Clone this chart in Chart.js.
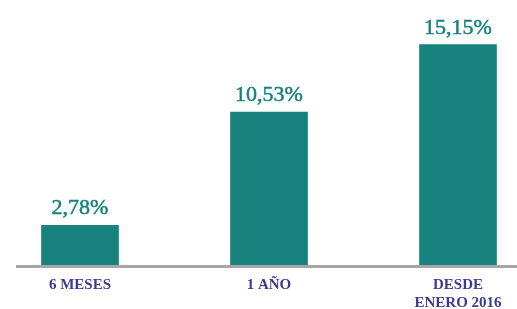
<!DOCTYPE html>
<html>
<head>
<meta charset="utf-8">
<script src="https://cdn.jsdelivr.net/npm/chart.js@4"></script>
<style>
    html, body { margin: 0; padding: 0; background: #fff; }
    .chart-box { width: 517px; height: 309px; position: relative; }
</style>
</head>
<body>
<div class="chart-box"><canvas id="returns-chart"></canvas></div>
<script>
    const categories = [['6 MESES'], ['1 AÑO'], ['DESDE', 'ENERO 2016']];
    const returns = [2.78, 10.53, 15.15];
    const valueLabels = ['2,78%', '10,53%', '15,15%'];

    const teal = '#17827e';

    // gray base line across the whole width
    const baseLine = {
        id: 'baseLine',
        afterDatasetsDraw(chart) {
            const ctx = chart.ctx;
            const y = chart.scales.y.getPixelForValue(0);
            ctx.save();
            ctx.fillStyle = '#a6a6a6';
            ctx.fillRect(16, y - 1, chart.width - 16, 3);
            ctx.restore();
        }
    };

    const valueTags = {
        id: 'valueTags',
        afterDatasetsDraw(chart) {
            const ctx = chart.ctx;
            const meta = chart.getDatasetMeta(0);
            ctx.save();
            ctx.fillStyle = teal;
            ctx.strokeStyle = teal;
            ctx.lineWidth = 0.5;
            ctx.font = '22px "Liberation Serif", serif';
            ctx.textAlign = 'center';
            ctx.textBaseline = 'alphabetic';
            meta.data.forEach((bar, i) => {
                ctx.fillText(valueLabels[i], bar.x, bar.y - 11);
                ctx.strokeText(valueLabels[i], bar.x, bar.y - 11);
            });
            ctx.restore();
        }
    };

    const ctx = document.getElementById('returns-chart').getContext('2d');
    new Chart(ctx, {
        type: 'bar',
        data: {
            labels: categories,
            datasets: [{
                data: returns,
                backgroundColor: teal,
                borderWidth: 0,
                barThickness: 77,
                clip: false
            }]
        },
        options: {
            responsive: true,
            maintainAspectRatio: false,
            animation: false,
            layout: { padding: { left: 80, right: 59, top: 0, bottom: 0 } },
            plugins: {
                legend: { display: false },
                tooltip: { enabled: false }
            },
            scales: {
                x: {
                    offset: false,
                    grid: { display: false, drawTicks: false },
                    border: { display: false },
                    afterFit(scale) { scale.height = 43; },
                    ticks: {
                        color: '#3b3b92',
                        padding: 10,
                        maxRotation: 0,
                        autoSkip: false,
                        font: { family: '"Liberation Serif", serif', size: 15, weight: 'bold', lineHeight: 1.22 }
                    }
                },
                y: {
                    display: false,
                    min: 0,
                    max: 18.2
                }
            }
        },
        plugins: [baseLine, valueTags]
    });
</script>
</body>
</html>
